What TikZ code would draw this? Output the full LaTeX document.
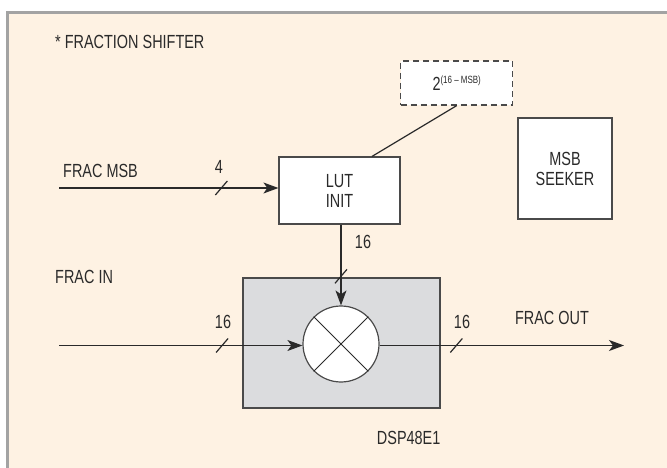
\documentclass[tikz,border=0pt]{standalone}
\usepackage{fontspec}
\setmainfont{Liberation Sans}[FakeStretch=0.76]
\usepackage{tikz}
\usetikzlibrary{arrows.meta,positioning}

\definecolor{paper}{HTML}{FEF2E3}
\definecolor{dspgray}{HTML}{DBDCDE}
\definecolor{framegray}{HTML}{A3A3A3}
\definecolor{ink}{HTML}{2A2A2A}

\tikzset{
  wire/.style={ink, line width=1.2pt},
  bus/.style={wire, -{Stealth[length=15pt,width=11pt,inset=4pt]}},
  block/.style={draw=ink!85, line width=1.2pt, fill=white, align=center, inner sep=0pt},
  lbl/.style={ink, inner sep=0pt, font=\fontsize{19}{21}\selectfont}
}
\newcommand{\busmark}[1]{\draw[wire] ([shift={(-6,7)}]#1) -- ([shift={(6,-7)}]#1);}

\begin{document}
\begin{tikzpicture}[x=1pt, y=-1pt, font=\fontsize{19}{21}\selectfont]
      \useasboundingbox (0,0) rectangle (667,468);
      % panel
      \fill[paper] (7,12) rectangle (667,468);
      \draw[framegray, line width=2.5pt] (7.5,468) -- (7.5,12.5) -- (667,12.5);
      \node[lbl, anchor=west] (title) at (55,42) {* FRACTION SHIFTER};
      % blocks
      \node[block, dashed, dash pattern=on 6pt off 4pt, minimum width=112pt, minimum height=44pt, text=ink] (shift) at (456.7,83)
        {2\raisebox{7pt}{\fontsize{10.5}{11}\selectfont(16 – MSB)}};
      \node[block, minimum width=121pt, minimum height=67pt, text=ink] (lut) at (339.5,190.5) {LUT\\[-1pt]INIT};
      \node[block, minimum width=94pt, minimum height=101pt, text=ink] (seeker) at (565,168.5) {MSB\\[-1pt]SEEKER};
      \node[block, fill=dspgray, minimum width=197pt, minimum height=130pt] (dsp) at (341.5,343) {};
      \node[block, circle, minimum size=76pt] (mult) at (341,344) {};
      \draw[ink, line width=1pt] (mult.45) -- (mult.225) (mult.135) -- (mult.315);
      \node[lbl, anchor=north east] (dspname) at ([yshift=-22pt]dsp.south east) {DSP48E1};
      % inputs and outputs
      \coordinate (msbin) at (59,188);
      \coordinate (fracin) at (59,345.5);
      \coordinate (fracout) at (624,345.5);
      \node[lbl, anchor=west] (msbtext) at (63,171) {FRAC MSB};
      \node[lbl, anchor=west] (intext) at (55,277) {FRAC IN};
      \node[lbl] (outtext) at (552,318) {FRAC OUT};
      % connectors
      \draw[wire] (shift.south) -- ([xshift=32.5pt]lut.north);
      \draw[bus] (msbin) -- (msbin -| lut.west) coordinate[pos=0.74] (m1);
      \draw[bus] (lut.south -| mult.north) -- (mult.north) coordinate[pos=0.64] (m2);
      \draw[bus] (fracin) -- (fracin -| mult.west) coordinate[pos=0.67] (m3);
      \draw[bus] (fracin -| mult.east) -- (fracout) coordinate[pos=0.314] (m4);
      \busmark{m1} \busmark{m2} \busmark{m3} \busmark{m4}
      \node[lbl] (w1) at (219,167) {4};
      \node[lbl] (w2) at (363,242) {16};
      \node[lbl] (w3) at (223,322) {16};
      \node[lbl] (w4) at (462,322) {16};
    \end{tikzpicture}
\end{document}
